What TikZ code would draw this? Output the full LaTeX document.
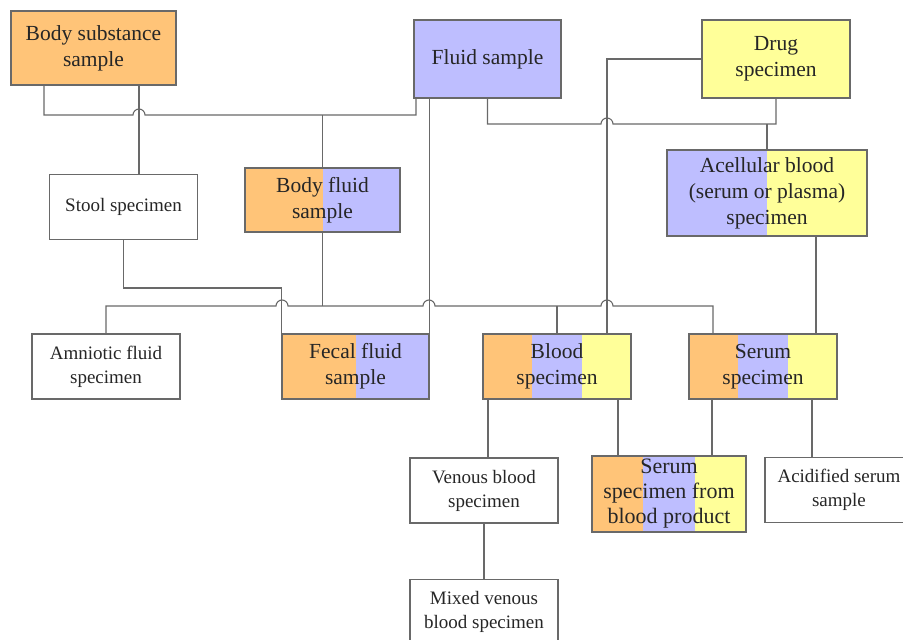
\documentclass[tikz,border=0pt]{standalone}
\usepackage{fontspec}
\setmainfont{Liberation Serif}
\usetikzlibrary{calc}
\definecolor{sorange}{RGB}{255,196,120}
\definecolor{spurple}{RGB}{190,190,255}
\definecolor{syellow}{RGB}{255,255,153}
\definecolor{lgray}{RGB}{105,105,105}
\begin{document}
\begin{tikzpicture}[x=1pt,y=-1pt,
  box/.style={draw=lgray, line width=1.1pt, align=center, inner sep=0pt, text=black!85,
    minimum width=148pt, minimum height=65pt, font=\fontsize{19}{24}\selectfont},
  cbox/.style={box, font=\fontsize{21.5}{26}\selectfont},
  conn/.style={draw=lgray, line width=1.1pt},
  fill2/.style 2 args={path picture={
    \fill[#1] let \p1=(path picture bounding box.south west), \p2=(path picture bounding box.north east)
      in (\p1) rectangle ({(\x1+\x2)/2},\y2);
    \fill[#2] let \p1=(path picture bounding box.south west), \p2=(path picture bounding box.north east)
      in ({(\x1+\x2)/2},\y1) rectangle (\p2);}},
  fill3/.style n args={3}{path picture={
    \fill[#1] let \p1=(path picture bounding box.south west), \p2=(path picture bounding box.north east)
      in (\p1) rectangle ({\x1+(\x2-\x1)/3},\y2);
    \fill[#2] let \p1=(path picture bounding box.south west), \p2=(path picture bounding box.north east)
      in ({\x1+(\x2-\x1)/3},\y1) rectangle ({\x1+2*(\x2-\x1)/3},\y2);
    \fill[#3] let \p1=(path picture bounding box.south west), \p2=(path picture bounding box.north east)
      in ({\x1+2*(\x2-\x1)/3},\y1) rectangle (\p2);}}]
\useasboundingbox (0,0) rectangle (903,640);

% top row
\node[cbox, fill=sorange, minimum width=165pt, minimum height=74pt] (bss) at (93.5,48) {Body substance\\sample};
\node[cbox, fill=spurple, minimum width=147pt, minimum height=78pt] (fluid) at (487.5,59) {Fluid sample};
\node[cbox, fill=syellow, minimum height=78pt] (drug) at (776,59) {Drug\\specimen};

% second row
\node[box] (stool) at (123.5,207) {Stool specimen};
\node[cbox, fill2={sorange}{spurple}, minimum width=155pt, minimum height=64pt] (bodyfluid) at (322.5,200) {Body fluid\\sample};
\node[cbox, fill2={spurple}{syellow}, minimum width=200pt, minimum height=86pt] (acell) at (767,193) {Acellular blood\\(serum or plasma)\\specimen};

% third row
\node[box] (amnio) at (106,366.5) {Amniotic fluid\\specimen};
\node[cbox, fill2={sorange}{spurple}, minimum width=147pt] (fecal) at (355.5,366.5) {Fecal fluid\\sample};
\node[cbox, fill3={sorange}{spurple}{syellow}] (blood) at (557,366.5) {Blood\\specimen};
\node[cbox, fill3={sorange}{spurple}{syellow}] (serum) at (763,366.5) {Serum\\specimen};

% bottom
\node[box] (venous) at (484,490.5) {Venous blood\\specimen};
\node[cbox, fill3={sorange}{spurple}{syellow}, minimum width=154pt, minimum height=76pt,
  font=\fontsize{22}{25}\selectfont] (sfbp) at (669,494) {Serum\\specimen from\\blood product};
\node[box] (acid) at (839,490) {Acidified serum\\sample};
\node[box] (mixed) at (484,612) {Mixed venous\\blood specimen};

% connectors, with hops
\draw[conn] (bss.south -| 44,0) |- (133,115) arc[start angle=180,end angle=360,radius=6]
  -- (416,115) -- (fluid.south -| 416,0);
\draw[conn] (bss.south -| 139,0) -- (stool.north -| 139,0);
\draw[conn] (bodyfluid.north) -- (bodyfluid.north |- 0,115);
\draw[conn] (fluid.south) |- (601,124) arc[start angle=180,end angle=360,radius=6] -| (drug.south);
\draw[conn] (acell.north) -- (acell.north |- 0,124);
\draw[conn] (drug.west) -| (blood.north -| 607,0);
\draw[conn] (fluid.south -| fecal.north east) -- (fecal.north east);
\draw[conn] (stool.south) |- (fecal.north west |- 0,288) -- (fecal.north west);
\draw[conn] (amnio.north) |- (276,306)
  \foreach \h in {282,429,607} {-- (\h-6,306) arc[start angle=180,end angle=360,radius=6]}
  -| (serum.north -| 713,0);
\draw[conn] (bodyfluid.south) -- (bodyfluid.south |- 0,306);
\draw[conn] (blood.north) -- (blood.north |- 0,306);
\draw[conn] (acell.south -| 816,0) -- (serum.north -| 816,0);
\draw[conn] (blood.south -| 488,0) -- (venous.north -| 488,0);
\draw[conn] (blood.south -| 618,0) -- (sfbp.north -| 618,0);
\draw[conn] (serum.south -| 712,0) -- (sfbp.north -| 712,0);
\draw[conn] (serum.south -| 812,0) -- (acid.north -| 812,0);
\draw[conn] (venous.south) -- (mixed.north);
\end{tikzpicture}
\end{document}
